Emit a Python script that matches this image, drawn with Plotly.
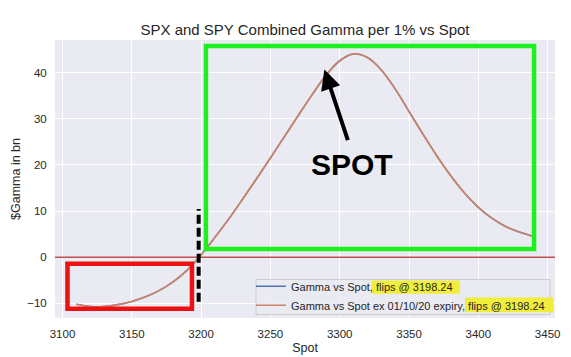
import plotly.graph_objects as go

# ---------------- data ----------------
spot = [3110, 3120, 3130, 3140, 3150, 3160, 3170, 3180, 3190, 3200,
        3210, 3220, 3230, 3240, 3250, 3260, 3270, 3280, 3290, 3300,
        3310, 3320, 3330, 3340, 3350, 3360, 3370, 3380, 3390, 3400,
        3410, 3420, 3430, 3440]
gamma = [-10.2, -10.7, -10.7, -10.3, -9.6, -8.6, -7.2, -5.3, -2.8, 0.5,
         4.3, 8.3, 12.6, 17.0, 21.5, 26.1, 30.7, 35.2, 39.4, 42.6,
         44.1, 43.3, 40.6, 36.5, 31.6, 26.7, 22.0, 17.7, 13.9, 10.8,
         8.4, 6.6, 5.4, 4.5]
gamma_ex = list(gamma)
flip = 3198.24
x_ticks = [3100, 3150, 3200, 3250, 3300, 3350, 3400, 3450]
y_ticks = [-10, 0, 10, 20, 30, 40]
name_all = "Gamma vs Spot, flips @ 3198.24"
name_ex = "Gamma vs Spot ex 01/10/20 expiry, flips @ 3198.24"
title_text = "SPX and SPY Combined Gamma per 1% vs Spot"

# ---------------- layout geometry ----------------
W, H = 571, 357
L, R, T, B = 55, 16, 40, 39
PW, PH = W - L - R, H - T - B

def px(xp):
    return (xp - L) / PW

def py(yp):
    return (H - B - yp) / PH

FONT = "Arial, Liberation Sans, sans-serif"
TXT = "#262626"

fig = go.Figure()
fig.add_trace(go.Scatter(x=spot, y=gamma, mode="lines", name=name_all,
                         line=dict(color="#4c72b0", width=1.6, shape="spline")))
fig.add_trace(go.Scatter(x=spot, y=gamma_ex, mode="lines", name=name_ex,
                         line=dict(color="#d08466", width=1.6, shape="spline")))

shapes = []
# zero line
shapes.append(dict(type="line", xref="x domain", yref="y", x0=0, x1=1, y0=0, y1=0,
                   line=dict(color="#c0504d", width=1.5), layer="above"))
# green box
shapes.append(dict(type="rect", xref="x", yref="y", x0=3203.5, x1=3440.2, y0=1.78, y1=45.8,
                   line=dict(color="#1eef1e", width=4.5), layer="above"))
# red box
shapes.append(dict(type="rect", xref="x", yref="y", x0=3103.6, x1=3193.4, y0=-11.19, y1=-1.43,
                   line=dict(color="#ee1111", width=4.5), layer="above"))
# dashed flip line
shapes.append(dict(type="line", xref="x", yref="y", x0=flip, x1=flip, y0=-9.7, y1=10.45,
                   line=dict(color="black", width=4, dash="9px,4px"), layer="above"))
# legend frame
shapes.append(dict(type="rect", xref="paper", yref="paper",
                   x0=px(256), x1=px(550), y0=py(314.5), y1=py(279.5),
                   fillcolor="rgba(234,234,242,0.8)", line=dict(color="#cccccc", width=1),
                   layer="above"))
# yellow highlights
shapes.append(dict(type="rect", xref="paper", yref="paper",
                   x0=px(371.7), x1=px(460), y0=py(293.8), y1=py(280.5),
                   fillcolor="#f0ee3a", line=dict(width=0), layer="above"))
shapes.append(dict(type="rect", xref="paper", yref="paper",
                   x0=px(465), x1=px(553.3), y0=py(312.3), y1=py(297.6),
                   fillcolor="#f0ee3a", line=dict(width=0), layer="above"))

annotations = [
    dict(x=3288.9, y=40.7, xref="x", yref="y", ax=24, ay=72, showarrow=True,
         arrowhead=2, arrowsize=1.0, arrowwidth=4, arrowcolor="black", text=""),
    dict(x=3309.2, y=20.2, xref="x", yref="y", showarrow=False, text="<b>SPOT</b>",
         font=dict(family=FONT, size=30, color="black")),
]

fig.update_layout(
    width=W, height=H,
    margin=dict(l=L, r=R, t=T, b=B, pad=0),
    paper_bgcolor="white", plot_bgcolor="#eaeaf2",
    font=dict(family=FONT, size=11, color=TXT),
    title=dict(text=title_text, x=0.5, xref="paper", xanchor="center",
               y=1 - 30 / H, yref="container", yanchor="middle",
               font=dict(family=FONT, size=15, color=TXT)),
    showlegend=True,
    legend=dict(x=px(550), xanchor="right", y=py(295.8), yanchor="middle",
                bgcolor="rgba(0,0,0,0)", borderwidth=0,
                font=dict(family=FONT, size=11, color=TXT)),
    shapes=shapes, annotations=annotations,
)
fig.update_xaxes(range=[3094.6, 3455.3], tickvals=x_ticks, showgrid=True, gridcolor="white",
                 gridwidth=1, zeroline=False, showline=False, ticks="outside", ticklen=5,
                 tickcolor="rgba(0,0,0,0)", tickfont=dict(size=11.5, color=TXT), automargin=False,
                 title=dict(text="Spot", font=dict(size=12.5, color=TXT), standoff=4))
fig.update_yaxes(range=[-13.2, 47.1], tickvals=y_ticks, showgrid=True, gridcolor="white",
                 gridwidth=1, zeroline=False, showline=False, ticks="outside", ticklen=5,
                 tickcolor="rgba(0,0,0,0)", tickfont=dict(size=11.5, color=TXT), automargin=False,
                 title=dict(text="$Gamma in bn", font=dict(size=12.5, color=TXT), standoff=3))

fig.write_html("out.html", config={"displayModeBar": False},
               post_script="document.body.style.margin='0';")
